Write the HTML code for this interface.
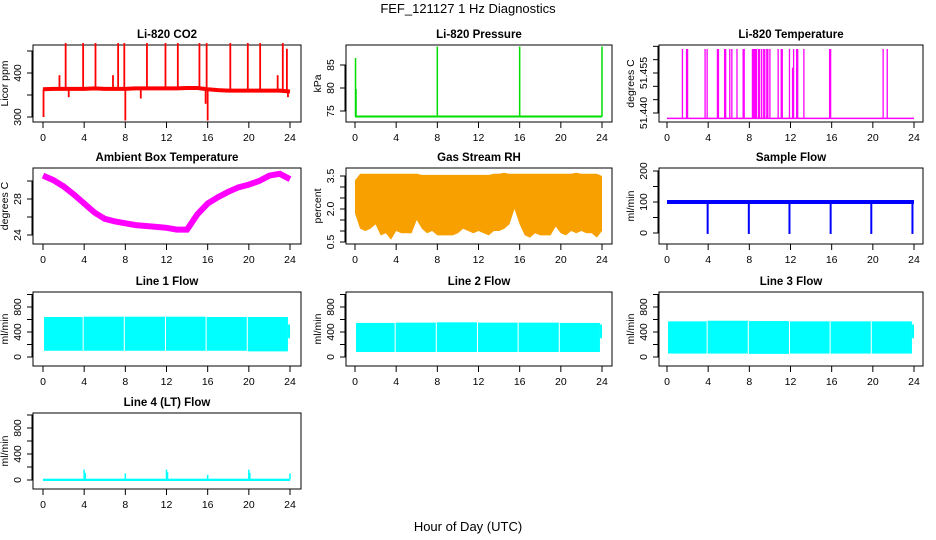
<!DOCTYPE html>
<html><head><meta charset="utf-8"><style>
body{margin:0;background:#fff}
svg{display:block;font-family:"Liberation Sans",sans-serif}
</style></head><body>
<svg id="c" width="936" height="540" viewBox="0 0 936 540">
<text x="468" y="13" text-anchor="middle" font-size="13">FEF_121127  1 Hz Diagnostics</text>
<text x="468" y="531" text-anchor="middle" font-size="13">Hour of Day (UTC)</text>
</svg>
<script>
// ---- data ----
const xTicks=[0,4,8,12,16,20,24];
const co2Hours=[0,1,2,3,4,5,6,7,8,9,10,11,12,13,14,15,16,17,18,19,20,21,22,23,24];
const co2Base=[363,364,364,364,364,365,364,364,364,365,365,365,365,365,366,366,363,361,360,360,360,360,360,360,358];
const co2SpikeHours=[1.6,2.2,3.9,5.1,6.8,7.3,7.9,10.1,11.9,13.1,15.2,15.9,18.2,19.9,21.1,22.8,23.3,23.7];
const co2SpikeVals=[395,468,468,468,395,468,468,468,468,468,468,468,468,468,468,395,468,455];
const co2DipHours=[0.05,8,16,2.5,9.5,15.8,23.8];
const co2DipVals=[300,292,292,345,342,330,345];
const presBase=73.8;
const presSpikeHours=[0.05,0.1,8,16,24];
const presSpikeVals=[86.5,79.8,89,89,89];
const tempBase=51.438;
const tempSpikeHours=[1.5,1.9,2.0,3.7,3.9,4.9,5.0,5.6,5.7,6.1,6.3,6.8,7.4,7.5,8.3,8.4,8.5,8.6,8.7,8.9,9.0,9.2,9.4,9.5,9.7,9.8,10.0,10.8,11.1,11.2,11.9,12.2,12.3,12.6,12.7,13.3,15.8,15.9,21.0,21.4];
const tempSpikeVals=[51.464,51.464,51.464,51.464,51.464,51.464,51.464,51.464,51.464,51.464,51.464,51.464,51.464,51.464,51.464,51.464,51.464,51.464,51.464,51.464,51.464,51.464,51.464,51.464,51.464,51.464,51.464,51.464,51.464,51.464,51.464,51.457,51.464,51.464,51.464,51.464,51.464,51.464,51.464,51.464];
const ambHours=[0,1,2,3,4,5,6,7,8,9,10,11,12,13,14,15,16,17,18,19,20,21,22,23,24];
const ambVals=[30.6,30.1,29.4,28.5,27.5,26.5,25.8,25.5,25.3,25.1,25.0,24.9,24.8,24.6,24.6,26.3,27.5,28.2,28.8,29.3,29.6,30.0,30.6,30.8,30.2];
const rhHours=[0,0.5,1,1.5,2,2.5,3,3.5,4,4.5,5,5.5,6,6.5,7,7.5,8,8.5,9,9.5,10,10.5,11,11.5,12,12.5,13,13.5,14,14.5,15,15.5,16,16.5,17,17.5,18,18.5,19,19.5,20,20.5,21,21.5,22,22.5,23,23.5,24];
const rhLow=[1.8,1.1,1.0,1.1,1.3,0.8,0.9,0.6,1.0,0.9,0.9,0.9,1.5,1.1,0.9,1.0,0.8,0.8,0.8,0.8,0.9,1.1,1.0,0.9,1.0,0.9,0.8,1.0,1.0,1.1,1.3,2.0,1.3,0.8,0.7,0.9,0.8,0.8,0.8,1.2,0.9,0.8,1.0,0.9,1.0,0.9,0.9,0.7,1.0];
const rhHigh=[3.3,3.6,3.6,3.6,3.6,3.6,3.6,3.6,3.6,3.6,3.6,3.6,3.6,3.55,3.55,3.55,3.55,3.55,3.55,3.55,3.55,3.55,3.55,3.55,3.55,3.55,3.55,3.6,3.6,3.65,3.6,3.6,3.6,3.6,3.6,3.6,3.6,3.6,3.6,3.6,3.6,3.6,3.6,3.65,3.6,3.6,3.6,3.6,3.5];
const sfBase=100;
const sfDipHours=[3.95,7.95,11.9,15.9,19.85,23.85];
const sfDipVals=[-3,-3,-3,-3,-3,-3];
const segStart=[0.1,3.95,7.95,11.95,15.9,19.9];
const segEnd=[3.85,7.85,11.85,15.8,19.8,23.8];
const l1High=[640,645,645,645,640,640];
const l1Low=[100,100,100,100,100,90];
const l2High=[545,550,555,550,550,545];
const l2Low=[80,80,80,80,80,80];
const l3High=[570,580,575,570,570,570];
const l3Low=[55,55,50,55,55,55];
const l4Base=[0,20];
const l4SpikeHours=[4,4.1,8,12,12.1,16,20,20.1,24];
const l4SpikeVals=[160,110,100,160,120,80,160,110,100];

// ---- layout ----
const svg=document.getElementById('c');
const NS='http://www.w3.org/2000/svg';
const cols=[{l:33,r:301,a:43,b:290},{l:346,r:612,a:355,b:602},{l:659,r:923,a:667,b:914}];
const rows=[{t:45,b:122},{t:168,b:244},{t:292,b:366},{t:413,b:489}];
function mk(tag,attrs,parent){const e=document.createElementNS(NS,tag);for(const k in attrs)e.setAttribute(k,attrs[k]);(parent||svg).appendChild(e);return e;}
function panel(ci,ri,title,ylab,v1,p1,v2,p2,ticks,labels,name){
  const c=cols[ci],r=rows[ri];
  const g=mk('g',{});
  
  
  const xs=h=>c.a+(c.b-c.a)*h/24;
  const ys=v=>p1+(v-v1)*(p2-p1)/(v2-v1);
  const t=mk('text',{x:(c.l+c.r)/2,y:r.t-7,'text-anchor':'middle','font-size':11.5,'font-weight':'bold'},g);
  t.textContent=title;
  
  
  const box=mk('rect',{x:c.l,y:r.t,width:c.r-c.l,height:r.b-r.t,fill:'none',stroke:'#000','stroke-width':1},g);
  
  
  const xa=mk('g',{},g);
  
  
  xTicks.forEach(h=>{mk('line',{x1:xs(h),x2:xs(h),y1:r.b,y2:r.b+6,stroke:'#000'},xa);
    const tl=mk('text',{x:xs(h),y:r.b+19,'text-anchor':'middle','font-size':10.5},xa);tl.textContent=h;});
  const ya=mk('g',{},g);
  
  
  mk('line',{x1:c.l-1,x2:c.l-1,y1:ys(ticks[0]),y2:ys(ticks[ticks.length-1]),stroke:'#000'},ya);
  ticks.forEach(v=>{mk('line',{x1:c.l-6,x2:c.l,y1:ys(v),y2:ys(v),stroke:'#000'},ya);});
  labels.forEach(v=>{const y=ys(v);const tl=mk('text',{x:0,y:0,'text-anchor':'middle','font-size':10.5,transform:`translate(${c.l-12},${y}) rotate(-90)`},ya);tl.textContent=String(v);});
  const yl=mk('text',{x:0,y:0,'text-anchor':'middle','font-size':10.5,transform:`translate(${c.l-25},${(r.t+r.b)/2}) rotate(-90)`},g);
  yl.textContent=ylab;
  
  
  const d=mk('g',{},g);
  
  
  return {xs,ys,d};
}
function vline(p,h,v0,v1,col,w){return mk('line',{x1:p.xs(h),x2:p.xs(h),y1:p.ys(v0),y2:p.ys(v1),stroke:col,'stroke-width':w||1.5},p.d);}
function poly(p,hs,vs,col,w){return mk('polyline',{points:hs.map((h,i)=>p.xs(h)+','+p.ys(vs[i])).join(' '),fill:'none',stroke:col,'stroke-width':w},p.d);}

let p=panel(0,0,'Li-820 CO2','Licor ppm',300,117,400,73,[300,350,400,450],['300','400'],'co2');
poly(p,co2Hours,co2Base,'#ff0000',4);
co2SpikeHours.forEach((h,i)=>vline(p,h,co2Base[Math.round(h)],co2SpikeVals[i],'#ff0000',1.8));
co2DipHours.forEach((h,i)=>vline(p,h,co2Base[Math.round(h)],co2DipVals[i],'#ff0000',1.8));
p=panel(1,0,'Li-820 Pressure','kPa',75,111,85,65,[75,80,85],['75','80','85'],'pressure');
poly(p,[0,24],[presBase,presBase],'#00dd00',2);
presSpikeHours.forEach((h,i)=>vline(p,h,presBase,presSpikeVals[i],'#00dd00',1.5));
p=panel(2,0,'Li-820 Temperature','degrees C',51.440,113,51.455,73,[51.440,51.445,51.450,51.455,51.460,51.465],['51.440','51.455'],'li820-temperature');
poly(p,[0,24],[tempBase,tempBase],'#ff00ff',1.5);
tempSpikeHours.forEach((h,i)=>vline(p,h,tempBase,tempSpikeVals[i],'#ff00ff',1.3));
p=panel(0,1,'Ambient Box Temperature','degrees C',24,235,28,199,[24,26,28,30],['24','28'],'ambient-temperature');
poly(p,ambHours,ambVals,'#ff00ff',6);
p=panel(1,1,'Gas Stream RH','percent',0.5,242,3.5,176,[0.5,1,1.5,2,2.5,3,3.5],['0.5','2.0','3.5'],'gas-stream-rh');
{let pts=[];rhHours.forEach((h,i)=>pts.push(p.xs(h)+','+p.ys(rhHigh[i])));
 for(let i=rhHours.length-1;i>=0;i--){pts.push(p.xs(rhHours[i])+','+p.ys(rhLow[i]));}
 mk('polygon',{points:pts.join(' '),fill:'#f7a000'},p.d);}
p=panel(2,1,'Sample Flow','ml/min',0,233,100,202,[0,50,100,150,200],['0','100','200'],'sample-flow');
poly(p,[0,24],[sfBase,sfBase],'#0000ff',4);
sfDipHours.forEach((h,i)=>vline(p,h,sfBase,sfDipVals[i],'#0000ff',2));
function band(p,hi,lo){segStart.forEach((s,i)=>{mk('rect',{x:p.xs(s),y:p.ys(hi[i]),width:p.xs(segEnd[i])-p.xs(s),height:p.ys(lo[i])-p.ys(hi[i]),fill:'#00ffff'},p.d);});
  mk('rect',{x:p.xs(segEnd[5]),y:p.ys(520),width:p.xs(24)-p.xs(segEnd[5]),height:p.ys(300)-p.ys(520),fill:'#00ffff'},p.d);}
const lt=[0,200,400,600,800,1000],ll=['0','400','800'];
p=panel(0,2,'Line 1 Flow','ml/min',0,357,800,307,lt,ll,'line-1-flow');band(p,l1High,l1Low);
p=panel(1,2,'Line 2 Flow','ml/min',0,357,800,307,lt,ll,'line-2-flow');band(p,l2High,l2Low);
p=panel(2,2,'Line 3 Flow','ml/min',0,357,800,307,lt,ll,'line-3-flow');band(p,l3High,l3Low);
p=panel(0,3,'Line 4 (LT) Flow','ml/min',0,480,800,428,lt,ll,'line-4-flow');
mk('rect',{x:p.xs(0),y:p.ys(l4Base[1]),width:p.xs(24)-p.xs(0),height:p.ys(l4Base[0])-p.ys(l4Base[1])+1,fill:'#00ffff'},p.d);
l4SpikeHours.forEach((h,i)=>vline(p,h,10,l4SpikeVals[i],'#00ffff',1.5));
</script>
</body></html>
